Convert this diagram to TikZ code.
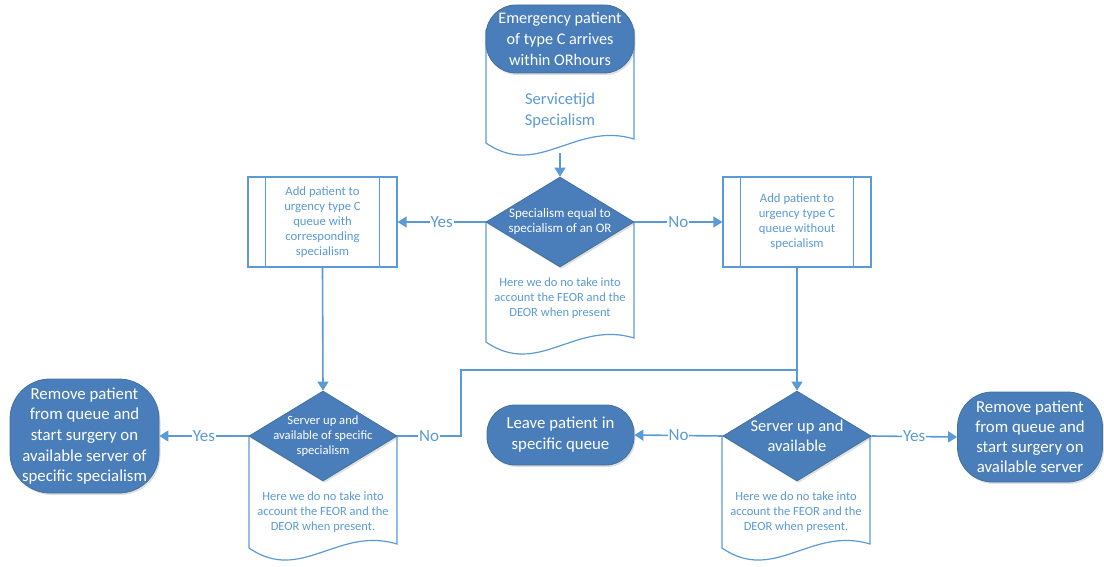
\documentclass[tikz,border=0pt]{standalone}
\usepackage{fontspec}
\setmainfont{Carlito}
\usetikzlibrary{shapes.geometric,arrows.meta,shadows,calc}
\definecolor{dk}{HTML}{4A7EBB}
\definecolor{dkb}{HTML}{41719C}
\definecolor{ln}{HTML}{5B9BD5}
\definecolor{tx}{HTML}{5B9BD5}
\tikzset{
 shad/.style={drop shadow={opacity=0.25, shadow xshift=1.5pt, shadow yshift=-2pt}},
 term/.style={rectangle, draw=dkb, line width=0.8pt, fill=dk, text=white, align=center, inner sep=0pt, shad},
 dia/.style={diamond, draw=dkb, fill=dk, line width=0.8pt, inner sep=0pt, minimum width=148pt, minimum height=90pt, shad},
 dtxt/.style={text=white, align=center, inner sep=0pt},
 pbox/.style={rectangle, draw=ln, fill=white, line width=1.2pt, minimum width=149pt, minimum height=90pt, text=tx, align=center, inner sep=0pt, font=\fontsize{12.7}{15}\selectfont},
 docln/.style={draw=ln, fill=white, line width=1.2pt},
 doctxt/.style={text=tx, align=center, inner sep=0pt},
 conn/.style={draw=ln, line width=1.6pt},
 arr/.style={conn, -{Triangle[length=9pt,width=11pt]}},
 lbl/.style={fill=white, text=tx, inner sep=1pt, font=\fontsize{17}{18}\selectfont},
 inl/.style={draw=ln, line width=1.2pt},
}
\begin{document}
\begin{tikzpicture}[x=1pt,y=-1pt]
\useasboundingbox (0,0) rectangle (1104,567);
% documents (behind)
\path[docln] (486,30) -- (486,143) .. controls (538,179) and (575,121) .. (634,139) -- (634,30) -- cycle;
\path[docln] (486,222) -- (486,342) .. controls (538,378) and (575,320) .. (634,338) -- (634,222) -- cycle;
\path[docln] (249,436) -- (249,548) .. controls (301,584) and (338,526) .. (397,544) -- (397,436) -- cycle;
\path[docln] (722,436) -- (722,548) .. controls (774,584) and (811,526) .. (870,544) -- (870,436) -- cycle;
\node[doctxt, font=\fontsize{16.5}{21}\selectfont] (doc1t) at (560,111) {Servicetijd\\Specialism};
\node[doctxt, font=\fontsize{12.5}{15}\selectfont] (doc2t) at (560,298) {Here we do no take into\\account the FEOR and the\\DEOR when present};
\node[doctxt, font=\fontsize{12.5}{15}\selectfont] (doc3t) at (323,512) {Here we do no take into\\account the FEOR and the\\DEOR when present.};
\node[doctxt, font=\fontsize{12.5}{15}\selectfont] (doc4t) at (796,512) {Here we do no take into\\account the FEOR and the\\DEOR when present.};
% terminals
\node[term, rounded corners=30pt, minimum width=148pt, minimum height=68pt, font=\fontsize{16.2}{21}\selectfont] (start) at (560,39) {Emergency patient\\of type C arrives\\within ORhours};
\node[term, rounded corners=40pt, minimum width=149pt, minimum height=114pt, font=\fontsize{16.8}{20.7}\selectfont] (tl) at (84.5,436) {Remove patient\\from queue and\\start surgery on\\available server of\\specific specialism};
\node[term, rounded corners=28pt, minimum width=147pt, minimum height=60pt, font=\fontsize{16.8}{21}\selectfont] (leave) at (560.5,435) {Leave patient in\\specific queue};
\node[term, rounded corners=35pt, minimum width=145pt, minimum height=90pt, font=\fontsize{16.8}{20}\selectfont] (tr) at (1030,437) {Remove patient\\from queue and\\start surgery on\\available server};
% diamonds
\node[dia] (d1) at (560,222) {};
\node[dtxt, font=\fontsize{13}{15}\selectfont] (d1t) at (d1) {Specialism equal to\\specialism of an OR};
\node[dia] (d2) at (323,436) {};
\node[dtxt, font=\fontsize{12.6}{15}\selectfont] (d2t) at (d2) {Server up and\\available of specific\\specialism};
\node[dia] (d3) at (797,436) {};
\node[dtxt, font=\fontsize{16.5}{20}\selectfont] (d3t) at (d3) {Server up and\\available};
% predefined process boxes
\node[pbox] (b1) at (322.5,222) {Add patient to\\urgency type C\\queue with\\corresponding\\specialism};
\draw[inl] ($(b1.north west)+(18,0)$) -- ($(b1.south west)+(18,0)$);
\draw[inl] ($(b1.north east)+(-18,0)$) -- ($(b1.south east)+(-18,0)$);
\node[pbox, minimum width=148pt] (b2) at (797,222) {Add patient to\\urgency type C\\queue without\\specialism};
\draw[inl] ($(b2.north west)+(18,0)$) -- ($(b2.south west)+(18,0)$);
\draw[inl] ($(b2.north east)+(-18,0)$) -- ($(b2.south east)+(-18,0)$);
% connectors
\coordinate (doc1b) at (560,153);
\coordinate (bend) at (461,436);
\coordinate (j) at (797,370);
\draw[arr] (doc1b) -- (d1.north);
\draw[arr] (d1.west) -- node[lbl]{Yes} (b1.east);
\draw[arr] (d1.east) -- node[lbl]{No} (b2.west);
\draw[arr] (b1.south) -- (d2.north);
\draw[arr] (b2.south) -- (d3.north);
\draw[conn] (d2.east) -- node[lbl]{No} (bend) |- (j);
\draw[arr] (d2.west) -- node[lbl]{Yes} (tl.east);
\draw[arr] (d3.west) -- node[lbl]{No} (leave.east);
\draw[arr] (d3.east) -- node[lbl]{Yes} (tr.west);
\end{tikzpicture}
\end{document}
